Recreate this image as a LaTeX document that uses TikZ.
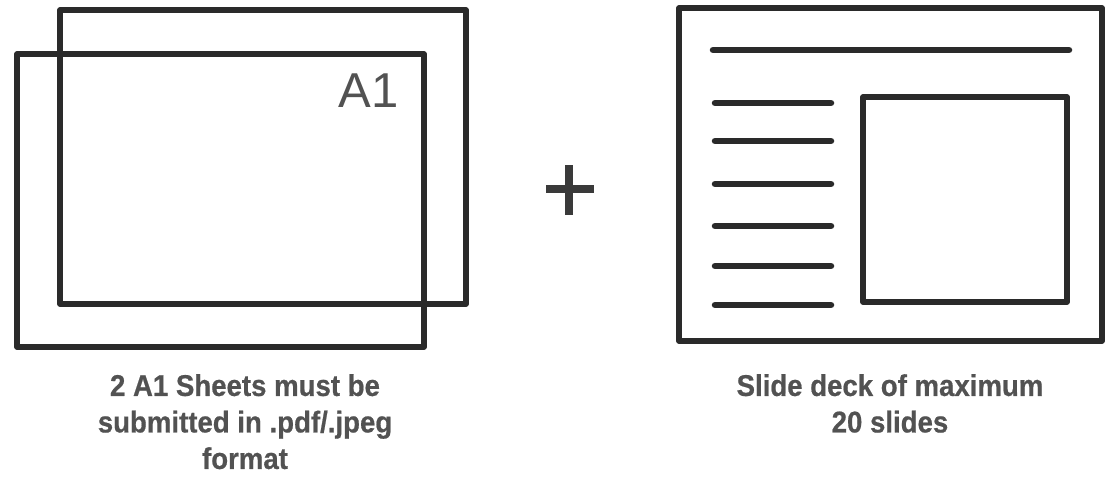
\documentclass[tikz,border=0pt]{standalone}
\usepackage{fontspec}
\setmainfont{Liberation Sans}
\newfontfamily\capfont[FakeStretch=0.92,FakeBold=0.6]{Liberation Sans}
\begin{document}
\begin{tikzpicture}[x=1pt,y=-1pt,
  frame/.style={draw=ink,line width=5.5pt,line join=round},
  bar/.style={draw=ink,line width=6.5pt,line cap=round},
  caption/.style={text=capgray,font=\capfont\bfseries\fontsize{30}{36.5}\selectfont,align=center,inner sep=0pt},
]
\definecolor{ink}{HTML}{2A2A2A}
\definecolor{capgray}{HTML}{525252}
\definecolor{plusgray}{HTML}{3A3A3A}
\useasboundingbox (0,0) rectangle (1106,477);
% left: two A1 sheets
\draw[frame] (60,10) rectangle (466,304);
\draw[frame] (17,54) rectangle (424,347);
\node[text=capgray,font=\fontsize{49}{49}\selectfont,anchor=base east,inner sep=0pt] (a1) at (399,107) {A1};
% plus
\fill[plusgray] (565,165) rectangle (573,215);
\fill[plusgray] (546,185) rectangle (594,193);
% right: slide
\draw[frame] (679,8) rectangle (1102,341);
\draw[bar] (713,50) -- (1069,50);
\foreach \y in {103,141,184,226,266,305}{\draw[bar] (715,\y) -- (831,\y);}
\draw[frame] (863,97) rectangle (1067,302);
% captions
\node[caption,anchor=north] (c1) at (245,374) {2 A1 Sheets must be\\submitted in .pdf/.jpeg\\format};
\node[caption,anchor=north] (c2) at (890,374) {Slide deck of maximum\\20 slides};
\end{tikzpicture}
\end{document}
